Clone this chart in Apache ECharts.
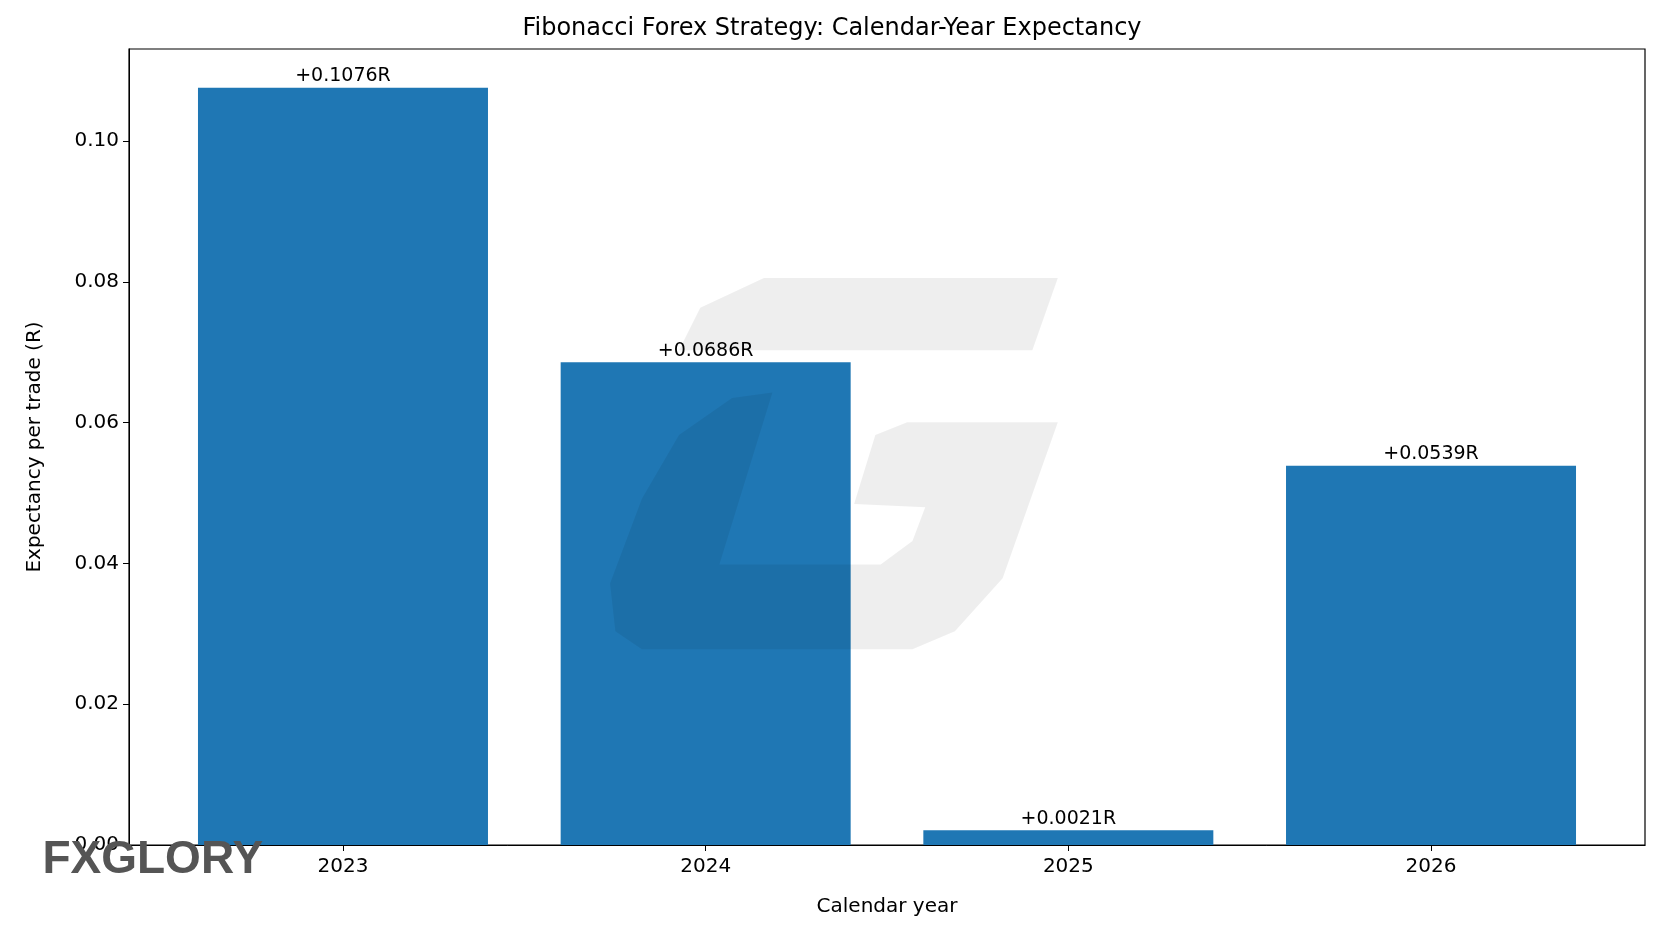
<!DOCTYPE html>
<html>
<head>
<meta charset="utf-8">
<script src="https://cdn.jsdelivr.net/npm/echarts@6/dist/echarts.min.js"></script>
<style>html,body{margin:0;padding:0;background:#fff}#chart{width:1664px;height:928px}</style>
</head>
<body>
<div id="chart"></div>
<script>
var years = ['2023', '2024', '2025', '2026'];
var expectancy = [0.1076, 0.0686, 0.0021, 0.0539];
var yTicks = [0, 0.02, 0.04, 0.06, 0.08, 0.10];

var chart = echarts.init(document.getElementById('chart'));
var s = 1.061;
function pts(arr) {
  return arr.map(function (p) { return [p[0] * s, p[1] * s]; });
}
var wm = 'rgba(0,0,0,0.065)';

var option = {
  backgroundColor: '#fff',
  animation: false,
  textStyle: { fontFamily: 'DejaVu Sans' },
  title: {
    text: 'Fibonacci Forex Strategy: Calendar-Year Expectancy',
    left: 'center', top: 12,
    textStyle: { fontSize: 24, fontWeight: 'normal', color: '#000' }
  },
  grid: {
    left: 129, right: 19, top: 49, bottom: 83,
    show: true, borderColor: '#000', borderWidth: 1.2
  },
  xAxis: {
    type: 'value', min: -0.59, max: 3.59,
    name: 'Calendar year', nameLocation: 'middle', nameGap: 52,
    nameTextStyle: { fontSize: 20, color: '#000' },
    axisLine: { show: true, onZero: false, lineStyle: { color: '#000' } },
    axisTick: { show: true, length: 6, lineStyle: { color: '#000' }, customValues: [0, 1, 2, 3] },
    axisLabel: {
      fontSize: 20, color: '#000', margin: 12, customValues: [0, 1, 2, 3],
      formatter: function (v) { return years[Math.round(v)]; }
    },
    splitLine: { show: false }
  },
  yAxis: {
    type: 'value', min: 0, max: 0.1131,
    name: 'Expectancy per trade (R)', nameLocation: 'middle', nameGap: 84,
    nameTextStyle: { fontSize: 20, color: '#000' },
    axisLine: { show: true, onZero: false, lineStyle: { color: '#000' } },
    axisTick: { show: true, length: 6, lineStyle: { color: '#000' }, customValues: yTicks },
    axisLabel: {
      fontSize: 20, color: '#000', margin: 10, customValues: yTicks,
      formatter: function (v) { return v.toFixed(2); }
    },
    splitLine: { show: false }
  },
  series: [{
    type: 'bar',
    data: expectancy.map(function (v, i) { return [i, v]; }),
    barWidth: 290,
    itemStyle: { color: '#1f77b4' },
    label: {
      show: true, position: 'top', distance: 2, fontSize: 19, color: '#000',
      formatter: function (p) { return '+' + p.value[1].toFixed(4) + 'R'; }
    }
  }],
  graphic: [
    { type: 'polygon', z: 100, silent: true,
      shape: { points: pts([[640,330],[660,290],[720,262],[997,262],[973,330]]) },
      style: { fill: wm } },
    { type: 'polygon', z: 100, silent: true,
      shape: { points: pts([[728,370],[690,375],[640,410],[605,470],[575,550],[580,595],[605,612],[860,612],[900,595],[945,545],[997,398],[855,398],[825,410],[805,475],[872,478],[860,510],[830,532],[678,532]]) },
      style: { fill: wm } },
    { type: 'text', z: 100, left: 40 * s, top: 789 * s,
      style: { text: 'FXGLORY', fontSize: 46, fontWeight: 'bold', fill: '#555', fontFamily: 'Liberation Sans Narrow, Liberation Sans' } }
  ]
};
chart.setOption(option);
</script>
</body>
</html>
